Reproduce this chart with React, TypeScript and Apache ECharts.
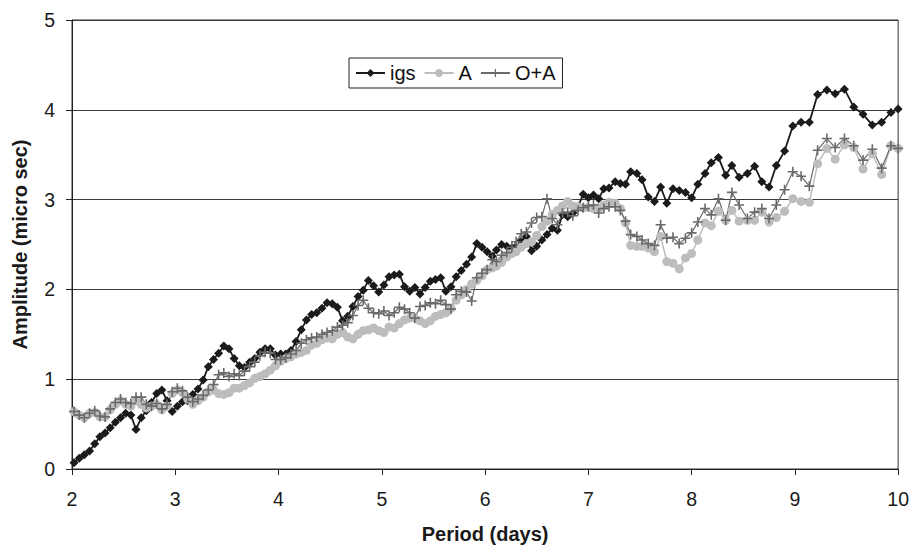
import React, { useEffect, useRef } from "react";
import * as echarts from "echarts";

// Period (days) of each sample, shared by the three series
const periods = [
  2.02, 2.07, 2.12, 2.17, 2.22, 2.27, 2.32, 2.37, 2.42, 2.47,
  2.52, 2.57, 2.62, 2.67, 2.72, 2.77, 2.82, 2.87, 2.92, 2.97,
  3.02, 3.07, 3.12, 3.17, 3.22, 3.27, 3.32, 3.37, 3.42, 3.47,
  3.52, 3.57, 3.62, 3.67, 3.72, 3.77, 3.82, 3.87, 3.92, 3.97,
  4.02, 4.07, 4.12, 4.17, 4.22, 4.27, 4.32, 4.37, 4.42, 4.47,
  4.52, 4.57, 4.62, 4.67, 4.72, 4.77, 4.82, 4.87, 4.92, 4.97,
  5.02, 5.07, 5.12, 5.17, 5.22, 5.27, 5.32, 5.37, 5.42, 5.47,
  5.52, 5.57, 5.62, 5.67, 5.72, 5.77, 5.82, 5.87, 5.92, 5.97,
  6.02, 6.07, 6.11, 6.16, 6.21, 6.26, 6.30, 6.35, 6.40, 6.45,
  6.50, 6.55, 6.60, 6.65, 6.70, 6.75, 6.80, 6.85, 6.90, 6.95,
  7.00, 7.05, 7.10, 7.15, 7.20, 7.26, 7.31, 7.36, 7.41,
  7.47, 7.52, 7.58, 7.64, 7.70, 7.76, 7.82, 7.88, 7.94,
  8.00, 8.06, 8.13, 8.19, 8.26, 8.33, 8.39, 8.46, 8.54, 8.61,
  8.68, 8.75, 8.82, 8.90, 8.98, 9.06, 9.14, 9.22, 9.31, 9.39,
  9.48, 9.57, 9.66, 9.75, 9.84, 9.93, 10.0,
];

// Amplitude (micro sec)
const igs = [
  0.07, 0.12, 0.16, 0.2, 0.28, 0.36, 0.4, 0.46, 0.52, 0.57,
  0.62, 0.6, 0.44, 0.57, 0.65, 0.74, 0.84, 0.88, 0.76, 0.64,
  0.7, 0.75, 0.76, 0.83, 0.89, 0.99, 1.14, 1.22, 1.29, 1.37,
  1.34, 1.23, 1.15, 1.13, 1.19, 1.23, 1.3, 1.34, 1.34, 1.27,
  1.28, 1.28, 1.32, 1.42, 1.55, 1.66, 1.72, 1.74, 1.79, 1.85,
  1.84, 1.8, 1.65, 1.7, 1.81, 1.92, 1.99, 2.1, 2.04, 1.97,
  2.05, 2.14, 2.16, 2.17, 2.03, 1.98, 2.02, 1.95, 2.02, 2.09,
  2.11, 2.13, 1.98, 2.03, 2.14, 2.21, 2.28, 2.36, 2.51, 2.47,
  2.42, 2.37, 2.44, 2.5, 2.48, 2.46, 2.47, 2.54, 2.59, 2.43,
  2.48, 2.55, 2.61, 2.68, 2.66, 2.83, 2.81, 2.85, 2.92, 3.06,
  3.02, 3.05, 3.01, 3.12, 3.13, 3.2, 3.18, 3.17, 3.31,
  3.29, 3.22, 3.03, 2.98, 3.14, 2.96, 3.12, 3.1, 3.08,
  3.02, 3.17, 3.29, 3.41, 3.47, 3.27, 3.38, 3.25, 3.29, 3.37,
  3.2, 3.14, 3.38, 3.54, 3.82, 3.86, 3.86, 4.17, 4.22, 4.18,
  4.23, 4.03, 3.95, 3.83, 3.86, 3.97, 4.01,
];

const seriesA = [
  0.64, 0.6, 0.57, 0.62, 0.63, 0.58, 0.58, 0.66, 0.72, 0.76,
  0.72, 0.7, 0.76, 0.72, 0.68, 0.7, 0.72, 0.66, 0.7, 0.84,
  0.88, 0.85, 0.78, 0.72, 0.76, 0.8, 0.86, 0.88, 0.84, 0.83,
  0.85, 0.9, 0.9, 0.93, 0.96, 1.01, 1.03, 1.06, 1.1, 1.15,
  1.2, 1.23, 1.25, 1.28, 1.3, 1.32, 1.38, 1.4, 1.44, 1.46,
  1.45, 1.5, 1.52, 1.47, 1.45, 1.5, 1.54, 1.55, 1.57, 1.54,
  1.52, 1.58, 1.57, 1.62, 1.66, 1.68, 1.68, 1.65, 1.62, 1.65,
  1.7, 1.72, 1.74, 1.79, 1.88, 1.94, 2.0, 2.06, 2.1, 2.15,
  2.22, 2.24, 2.26, 2.3, 2.36, 2.4, 2.42, 2.47, 2.51, 2.53,
  2.6, 2.7, 2.76, 2.83, 2.88, 2.93, 2.98, 2.93, 2.92, 2.91,
  2.91, 2.9, 2.91, 2.94, 2.97, 2.96, 2.9, 2.74, 2.49,
  2.48, 2.48, 2.46, 2.42, 2.59, 2.31, 2.29, 2.23, 2.35,
  2.4, 2.55, 2.74, 2.71, 2.87, 2.77, 2.88, 2.76, 2.77, 2.77,
  2.86, 2.75, 2.8, 2.87, 3.01, 2.98, 2.97, 3.4, 3.57, 3.45,
  3.61, 3.58, 3.34, 3.51, 3.28, 3.6, 3.57,
];

const seriesOA = [
  0.64, 0.6, 0.57, 0.62, 0.65, 0.59, 0.58, 0.67, 0.74, 0.78,
  0.74, 0.73, 0.8, 0.8, 0.72, 0.7, 0.73, 0.67, 0.72, 0.86,
  0.9, 0.87, 0.8, 0.75, 0.78, 0.82, 0.88, 0.94, 1.05, 1.07,
  1.03, 1.06, 1.04, 1.09, 1.14, 1.19, 1.26, 1.3, 1.29, 1.22,
  1.22, 1.24, 1.28, 1.32, 1.4, 1.44, 1.46, 1.47, 1.5, 1.52,
  1.54, 1.58, 1.6, 1.63, 1.71, 1.82, 1.88, 1.79, 1.74, 1.73,
  1.76, 1.71, 1.74, 1.8, 1.78, 1.74, 1.68, 1.81, 1.82, 1.85,
  1.84, 1.88, 1.83, 1.78, 1.94, 1.98, 1.97, 1.87, 2.13, 2.18,
  2.22, 2.33, 2.31, 2.38, 2.41, 2.47, 2.53, 2.62, 2.64, 2.74,
  2.8, 2.81, 3.01, 2.79, 2.72, 2.85, 2.86, 2.82, 2.88, 2.91,
  2.93, 2.94, 2.85, 2.9, 2.92, 2.92, 2.88, 2.76, 2.61,
  2.59, 2.55, 2.51, 2.49, 2.72, 2.57, 2.58, 2.51, 2.57,
  2.63, 2.75, 2.9, 2.83, 3.01, 2.77, 3.08, 2.94, 2.79, 2.86,
  2.9, 2.79, 2.94, 3.11, 3.31, 3.26, 3.15, 3.55, 3.68, 3.58,
  3.68, 3.6, 3.44, 3.56, 3.35, 3.6, 3.57,
];

const seriesNames = ["igs", "A", "O+A"];
const xTitle = "Period (days)";
const yTitle = "Amplitude (micro sec)";

const FONT = "'Liberation Sans', Arial, Helvetica, sans-serif";
const PLUS = "path://M4.2,0H5.8V4.2H10V5.8H5.8V10H4.2V5.8H0V4.2H4.2Z";

export default function App() {
  const ref = useRef<HTMLDivElement>(null);

  useEffect(() => {
    if (!ref.current) return;
    const chart = echarts.init(ref.current, null, { renderer: "svg" });
    const toPairs = (vals: number[]) => periods.map((p, i) => [p, vals[i]]);

    chart.setOption({
      animation: false,
      backgroundColor: "#ffffff",
      grid: {
        left: 72,
        right: 11,
        top: 20,
        bottom: 76,
        show: true,
        borderColor: "#333333",
        borderWidth: 1,
        backgroundColor: "transparent",
      },
      legend: {
        data: seriesNames,
        left: 349,
        top: 58,
        orient: "horizontal",
        itemWidth: 29,
        itemHeight: 10,
        itemGap: 8,
        padding: [5, 7, 5, 6],
        borderColor: "#222222",
        borderWidth: 1,
        borderRadius: 0,
        backgroundColor: "#ffffff",
        textStyle: { fontFamily: FONT, fontSize: 20, color: "#111111" },
      },
      xAxis: {
        type: "value",
        min: 2,
        max: 10,
        interval: 1,
        name: xTitle,
        nameLocation: "middle",
        nameGap: 55,
        nameTextStyle: { fontFamily: FONT, fontSize: 20, fontWeight: "bold", color: "#1a1a1a" },
        axisLine: { show: true, onZero: false, lineStyle: { color: "#222222", width: 1 } },
        axisTick: { show: true, inside: false, length: 6, lineStyle: { color: "#222222" } },
        axisLabel: { fontFamily: FONT, fontSize: 19.5, color: "#1a1a1a", margin: 20 },
        splitLine: { show: false },
      },
      yAxis: {
        type: "value",
        min: 0,
        max: 5,
        interval: 1,
        name: yTitle,
        nameLocation: "middle",
        nameRotate: 90,
        nameGap: 42,
        nameTextStyle: { fontFamily: FONT, fontSize: 20, fontWeight: "bold", color: "#1a1a1a" },
        axisLine: { show: true, lineStyle: { color: "#222222", width: 1 } },
        axisTick: { show: true, inside: false, length: 6, lineStyle: { color: "#222222" } },
        axisLabel: { fontFamily: FONT, fontSize: 19.5, color: "#1a1a1a", margin: 17 },
        splitLine: { show: true, lineStyle: { color: "#3a3a3a", width: 1 } },
      },
      series: [
        {
          name: seriesNames[0],
          type: "line",
          data: toPairs(igs),
          symbol: "diamond",
          symbolSize: 9,
          showSymbol: true,
          lineStyle: { color: "#1b1b1b", width: 1.8 },
          itemStyle: { color: "#1b1b1b" },
        },
        {
          name: seriesNames[1],
          type: "line",
          data: toPairs(seriesA),
          symbol: "circle",
          symbolSize: 9,
          showSymbol: true,
          lineStyle: { color: "#bdbdbd", width: 1.5 },
          itemStyle: { color: "#bdbdbd" },
        },
        {
          name: seriesNames[2],
          type: "line",
          data: toPairs(seriesOA),
          symbol: PLUS,
          symbolSize: 10,
          showSymbol: true,
          lineStyle: { color: "#6a6a6a", width: 1.2 },
          itemStyle: { color: "#6a6a6a" },
        },
      ],
    });

    return () => chart.dispose();
  }, []);

  return (
    <div
      ref={ref}
      style={{ position: "fixed", left: 0, top: 0, width: 912, height: 549, background: "#fff" }}
    />
  );
}
